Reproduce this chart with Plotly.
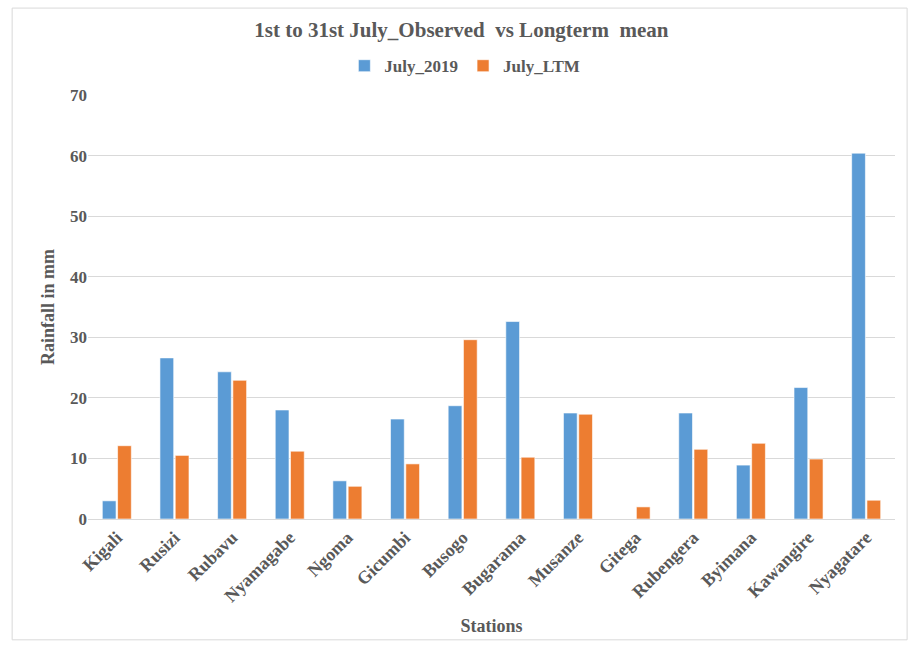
import plotly.graph_objects as go

stations = ["Kigali", "Rusizi", "Rubavu", "Nyamagabe", "Ngoma", "Gicumbi", "Busogo",
            "Bugarama", "Musanze", "Gitega", "Rubengera", "Byimana", "Kawangire", "Nyagatare"]
july_2019 = [3.0, 26.6, 24.3, 18.0, 6.3, 16.5, 18.7, 32.6, 17.5, 0, 17.5, 8.9, 21.7, 60.4]
july_ltm = [12.1, 10.5, 22.9, 11.2, 5.4, 9.1, 29.6, 10.2, 17.3, 2.0, 11.5, 12.5, 9.9, 3.1]

FONT = "Liberation Serif"
GREY = "#595959"

fig = go.Figure()
fig.add_trace(go.Bar(name="<b>July_2019</b>", x=stations, y=july_2019,
                     marker=dict(color="#5B9BD5", line=dict(color="rgba(255,255,255,0.6)", width=1))))
fig.add_trace(go.Bar(name="<b>July_LTM</b>", x=stations, y=july_ltm,
                     marker=dict(color="#ED7D31", line=dict(color="rgba(255,255,255,0.6)", width=1))))

fig.update_layout(
    width=910, height=646,
    margin=dict(l=88, r=15, t=95, b=127),
    paper_bgcolor="white", plot_bgcolor="white",
    barmode="group", bargap=0.47, bargroupgap=0.1,
    font=dict(family=FONT, color=GREY),
    title=dict(text="<b>1st to 31st July_Observed  vs Longterm  mean</b>",
               x=0.507, xanchor="center", y=1 - 30 / 646, yanchor="middle",
               font=dict(family=FONT, size=21, color=GREY)),
    legend=dict(orientation="h", x=0.467, xanchor="center", y=1.068, yanchor="middle",
                font=dict(family=FONT, size=17, color=GREY), itemwidth=30,
                traceorder="normal"),
    xaxis=dict(title=dict(text="<b>Stations</b>", font=dict(family=FONT, size=18, color=GREY), standoff=14),
               tickangle=-45, tickfont=dict(family=FONT, size=18, color=GREY),
               showline=True, linecolor="#D9D9D9", linewidth=1, ticks=""),
    yaxis=dict(title=dict(text="<b>Rainfall in mm</b>", font=dict(family=FONT, size=18, color=GREY), standoff=10),
               range=[0, 70], dtick=10, tickfont=dict(family=FONT, size=17, color=GREY),
               gridcolor="#D9D9D9", gridwidth=1, zeroline=False, showline=False, ticks=""),
    shapes=[dict(type="rect", xref="paper", yref="paper",
                 x0=-0.094, x1=1.015, y0=-0.285, y1=1.205,
                 line=dict(color="#D9D9D9", width=1), fillcolor="rgba(0,0,0,0)")],
)
fig.for_each_xaxis(lambda a: a.update(tickprefix="<b>", ticksuffix="</b>"))
fig.for_each_yaxis(lambda a: a.update(tickprefix="<b>", ticksuffix="</b>"))

fig.write_html("out.html")
